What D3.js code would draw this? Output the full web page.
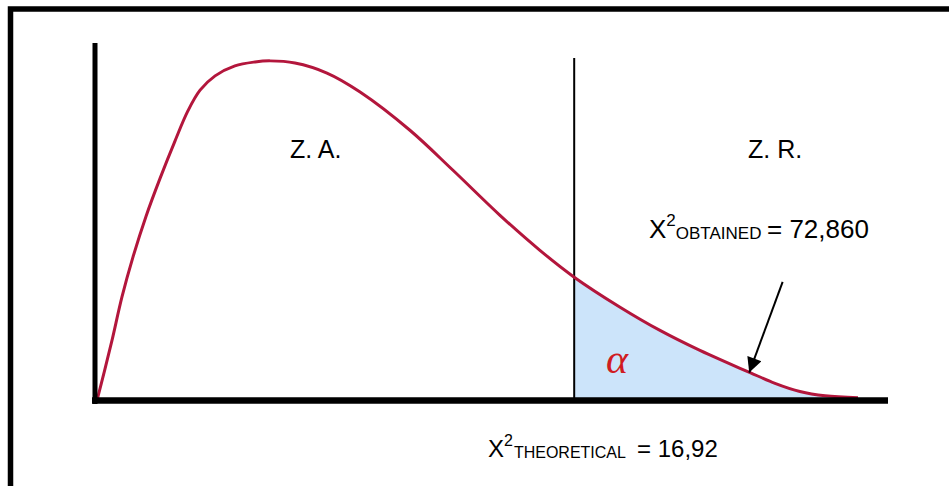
<!DOCTYPE html>
<html>
<head>
<meta charset="utf-8">
<script src="https://cdn.jsdelivr.net/npm/d3@7"></script>
<style>
  body { margin: 0; background: #fff; }
  svg { display: block; font-family: "Liberation Sans", Arial, sans-serif; }
</style>
</head>
<body>
<div id="chart"></div>
<script>
// chi-square shaped curve (x in chi units, y relative height)
var curveX = [0.07, 0.32, 0.60, 0.95, 1.34, 1.80, 2.30, 2.82, 3.28, 3.71, 4.24, 4.94, 5.65, 6.18, 7.06, 8.19, 9.36, 11.12, 12.64, 14.30, 15.71, 16.92, 18.54, 19.95, 21.36, 22.32, 23.13, 24.01, 24.89, 25.78, 26.94];
var curveY = [0, 0.078, 0.168, 0.289, 0.401, 0.515, 0.622, 0.725, 0.810, 0.868, 0.908, 0.936, 0.947, 0.950, 0.944, 0.916, 0.863, 0.756, 0.644, 0.518, 0.420, 0.345, 0.261, 0.196, 0.140, 0.106, 0.078, 0.048, 0.025, 0.013, 0.008];
var critical = 16.92;
var obtained = "72,860";
var theoretical = "16,92";
var zoneLabels = ["Z. A.", "Z. R."];

var width = 949, height = 486;
var margin = { top: 43, right: 61, bottom: 86, left: 95 };

var svg = d3.select('#chart')
  .append('svg')
  .attr('width', width)
  .attr('height', height);

var x = d3.scaleLinear()
  .domain([0, 28])
  .range([margin.left, width - margin.right]);

var y = d3.scaleLinear()
  .domain([0, 1])
  .range([height - margin.bottom + 0.5, margin.top]);

var pts = curveX.map(function(v, i) { return { x: v, y: curveY[i] }; });

// frame
svg.append('path')
  .attr('d', 'M10.5,' + (height + 5) + 'V9H' + (width + 5))
  .attr('fill', 'none')
  .attr('stroke', '#000')
  .attr('stroke-width', 5.5);

// rejection area
var area = d3.area()
  .x(function(d) { return x(d.x); })
  .y0(y(0))
  .y1(function(d) { return y(d.y); })
  .curve(d3.curveCatmullRom.alpha(0.5));

svg.append('path')
  .datum(pts.filter(function(d) { return d.x >= critical; }))
  .attr('d', area)
  .attr('fill', '#cce4fa');

// critical value line
svg.append('line')
  .attr('x1', x(critical)).attr('x2', x(critical))
  .attr('y1', y(0)).attr('y2', y(0.958))
  .attr('stroke', '#000')
  .attr('stroke-width', 2);

// curve
var line = d3.line()
  .x(function(d) { return x(d.x); })
  .y(function(d) { return y(d.y); })
  .curve(d3.curveCatmullRom.alpha(0.5));

svg.append('path')
  .datum(pts)
  .attr('d', line)
  .attr('fill', 'none')
  .attr('stroke', '#b3163c')
  .attr('stroke-width', 3);

// axes (plain thick lines, no ticks)
svg.append('line')
  .attr('x1', x(0)).attr('x2', x(0))
  .attr('y1', margin.top).attr('y2', y(0) + 3.5)
  .attr('stroke', '#000').attr('stroke-width', 5);

svg.append('line')
  .attr('x1', x(0) - 3).attr('x2', width - margin.right)
  .attr('y1', y(0)).attr('y2', y(0))
  .attr('stroke', '#000').attr('stroke-width', 6.5);

// alpha
svg.append('text')
  .attr('x', 617).attr('y', 373)
  .attr('text-anchor', 'middle')
  .attr('font-family', '"Liberation Serif", "Times New Roman", serif')
  .attr('font-style', 'italic')
  .attr('font-size', 42)
  .attr('fill', '#d01c22')
  .text('α');

// zone labels
svg.append('text').attr('x', 290).attr('y', 158).attr('font-size', 25).text(zoneLabels[0]);
svg.append('text').attr('x', 748).attr('y', 158).attr('font-size', 25).text(zoneLabels[1]);

// obtained label
var t1 = svg.append('text').attr('x', 649).attr('y', 238).attr('font-size', 26);
t1.append('tspan').text('X');
t1.append('tspan').attr('dy', -12).attr('font-size', 17).text('2');
t1.append('tspan').attr('dy', 13).attr('font-size', 17).text('OBTAINED');
t1.append('tspan').attr('x', 767).attr('dy', -1).text('= ' + obtained);

// theoretical label
var t2 = svg.append('text').attr('x', 488).attr('y', 457).attr('font-size', 24);
t2.append('tspan').text('X');
t2.append('tspan').attr('dy', -11).attr('font-size', 16).text('2');
t2.append('tspan').attr('dx', 1).attr('dy', 12).attr('font-size', 16).text('THEORETICAL');
t2.append('tspan').attr('x', 637).attr('dy', -1).text('= ' + theoretical);

// arrow toward the obtained value
svg.append('defs').append('marker')
  .attr('id', 'head')
  .attr('viewBox', '0 0 10 10')
  .attr('refX', 10).attr('refY', 5)
  .attr('markerUnits', 'userSpaceOnUse')
  .attr('markerWidth', 19).attr('markerHeight', 15)
  .attr('orient', 'auto')
  .append('path')
  .attr('d', 'M0,0L10,5L0,10z')
  .attr('fill', '#000');

svg.append('line')
  .attr('x1', x(24.28)).attr('y1', y(0.332))
  .attr('x2', x(23.1)).attr('y2', y(0.078))
  .attr('stroke', '#000')
  .attr('stroke-width', 2)
  .attr('marker-end', 'url(#head)');
</script>
</body>
</html>
